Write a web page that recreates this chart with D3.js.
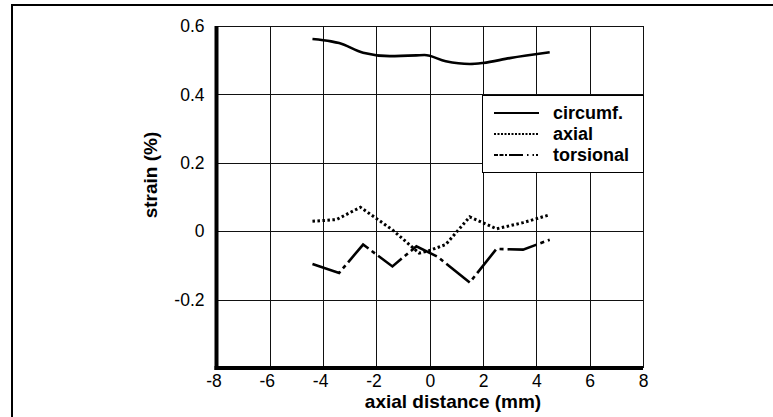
<!DOCTYPE html>
<html>
<head>
<meta charset="utf-8">
<script src="https://cdn.jsdelivr.net/npm/d3@7"></script>
<style>
  body { margin: 0; background: #fff; }
  text { font-family: "Liberation Sans", Arial, sans-serif; fill: #000; }
</style>
</head>
<body>
<svg id="visu" width="773" height="417"></svg>
<script>
var xTicks = [-8, -6, -4, -2, 0, 2, 4, 6, 8];
var yTicks = [-0.4, -0.2, 0, 0.2, 0.4, 0.6];

// circumferential strain
var circumfX = [-4.4, -3.7, -3.4, -2.5, -1.5, -0.5, -0.2, 0.6, 1.5, 2.0, 3.0, 4.5];
var circumf  = [0.562, 0.555, 0.550, 0.522, 0.512, 0.514, 0.515, 0.497, 0.489, 0.492, 0.506, 0.523];

// axial strain
var axialX = [-4.4, -3.5, -2.6, -1.4, -0.4, -0.1, 0.6, 1.5, 2.5, 3.5, 4.5];
var axial  = [0.029, 0.034, 0.070, 0.004, -0.064, -0.059, -0.039, 0.042, 0.007, 0.025, 0.048];

// torsional strain
var torsionalX = [-4.4, -3.4, -2.5, -1.4, -0.5, 0.3, 1.5, 2.5, 3.5, 4.5];
var torsional  = [-0.096, -0.122, -0.039, -0.103, -0.044, -0.075, -0.150, -0.052, -0.054, -0.025];

var seriesNames = ["circumf.", "axial", "torsional"];

var vis = d3.select("#visu"),
    LEFT = 216.5, RIGHT = 643, TOP = 26, BOTTOM = 368;

var xScale = d3.scaleLinear().domain([-8, 8]).range([LEFT, RIGHT]),
    yScale = d3.scaleLinear().domain([-0.4, 0.6]).range([BOTTOM, TOP]);

// outer frame (cut off at right / bottom like the scan)
vis.append("rect")
  .attr("x", 12).attr("y", 5)
  .attr("width", 780).attr("height", 430)
  .attr("fill", "none").attr("stroke", "#000").attr("stroke-width", 2);

// grid + tick labels
var xAxis = d3.axisBottom(xScale)
  .tickValues(xTicks)
  .tickSize(-(BOTTOM - TOP))
  .tickSizeOuter(0)
  .tickPadding(7)
  .tickFormat(function(d) { return String(d); });

var yAxis = d3.axisLeft(yScale)
  .tickValues(yTicks)
  .tickSize(-(RIGHT - LEFT))
  .tickSizeOuter(0)
  .tickPadding(12)
  .tickFormat(function(d) { return d === -0.4 ? "" : String(d); });

var gx = vis.append("g")
  .attr("transform", "translate(0," + BOTTOM + ")")
  .call(xAxis);
var gy = vis.append("g")
  .attr("transform", "translate(" + LEFT + ",0)")
  .call(yAxis);

[gx, gy].forEach(function(g) {
  g.selectAll(".tick line").attr("stroke", "#111").attr("stroke-width", 1)
    .attr("shape-rendering", "crispEdges");
  g.selectAll(".tick text")
    .attr("font-family", "'Liberation Sans', Arial, sans-serif")
    .attr("font-size", 17.5).attr("fill", "#000");
  g.select(".domain").remove();
});
gx.selectAll(".tick text").attr("dx", function(d) { return d < 0 ? -3 : 0; });

// thick left / bottom axis lines
vis.append("line")
  .attr("x1", LEFT).attr("x2", LEFT).attr("y1", TOP).attr("y2", BOTTOM + 2)
  .attr("stroke", "#000").attr("stroke-width", 4);
vis.append("line")
  .attr("x1", LEFT - 2).attr("x2", RIGHT).attr("y1", BOTTOM).attr("y2", BOTTOM)
  .attr("stroke", "#000").attr("stroke-width", 4);

// lines
var lineGen = d3.line()
  .x(function(d) { return xScale(d[0]); })
  .y(function(d) { return yScale(d[1]); });

var styles = [
  { dash: null, width: 2.6, curve: d3.curveMonotoneX },
  { dash: "2.5,2.5", width: 3, curve: d3.curveLinear },
  { dash: "30,4,4,4", width: 2.6, curve: d3.curveLinear }
];

var series = [
  d3.zip(circumfX, circumf),
  d3.zip(axialX, axial),
  d3.zip(torsionalX, torsional)
];

series.forEach(function(data, i) {
  vis.append("path")
    .attr("d", lineGen.curve(styles[i].curve)(data))
    .attr("fill", "none")
    .attr("stroke", "#000")
    .attr("stroke-width", styles[i].width)
    .attr("stroke-dasharray", styles[i].dash);
});

// legend
var leg = vis.append("g");
leg.append("rect")
  .attr("x", 482).attr("y", 95).attr("width", RIGHT - 482).attr("height", 77)
  .attr("fill", "#fff").attr("stroke", "#000").attr("stroke-width", 1)
  .attr("shape-rendering", "crispEdges");

var legendDash = [null, "2,1.5", "4,1.5,4,1.5,2,2,14"];
seriesNames.forEach(function(name, i) {
  var cy = 113 + i * 21;
  leg.append("line")
    .attr("x1", 494).attr("x2", 539).attr("y1", cy).attr("y2", cy)
    .attr("stroke", "#000")
    .attr("stroke-width", i === 0 ? 2 : 2.2)
    .attr("stroke-dasharray", legendDash[i]);
  leg.append("text")
    .attr("x", 553).attr("y", cy + 6)
    .attr("font-size", 18).attr("font-weight", "bold")
    .text(name);
});

// axis titles
vis.append("text")
  .attr("x", 453).attr("y", 408)
  .attr("text-anchor", "middle")
  .attr("font-size", 19).attr("font-weight", "bold")
  .text("axial distance (mm)");

vis.append("text")
  .attr("transform", "translate(157,175) rotate(-90)")
  .attr("text-anchor", "middle")
  .attr("font-size", 19).attr("font-weight", "bold")
  .text("strain (%)");
</script>
</body>
</html>
